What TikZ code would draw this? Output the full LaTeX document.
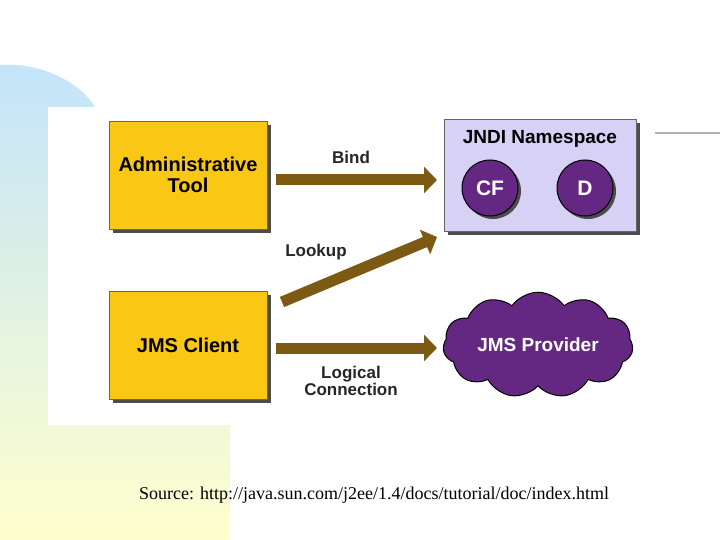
\documentclass[tikz,border=0pt]{standalone}
\usepackage{fontspec}
\setmainfont{Liberation Serif}
\newfontfamily\arialf{Liberation Sans}
\usetikzlibrary{shapes.symbols,arrows.meta,shadows}
\definecolor{ybox}{RGB}{250,200,20}
\definecolor{brownarr}{RGB}{125,90,20}
\definecolor{lav}{RGB}{215,210,245}
\definecolor{purp}{RGB}{100,40,130}
\definecolor{blueb}{RGB}{195,228,250}
\definecolor{yelb}{RGB}{255,255,205}
\begin{document}
\begin{tikzpicture}[x=1pt,y=-1pt,
 box/.style={draw=black!60,fill=ybox,minimum width=158pt,minimum height=108pt,font=\arialf\bfseries\fontsize{20}{21}\selectfont,align=center,drop shadow={shadow xshift=4pt,shadow yshift=-4pt,fill=black!70,opacity=1}},
 arr/.style={draw=brownarr,line width=11pt,-{Triangle[length=13pt,width=26pt]}},
 lab/.style={font=\arialf\bfseries\fontsize{17}{18}\selectfont,text=black!85,align=center}]
\useasboundingbox (0,0) rectangle (720,540);
\shade[top color=blueb,bottom color=yelb] (0,65) .. controls (40,62) and (80,82) .. (95,107) -- (95,425) -- (230,425) -- (230,540) -- (0,540) -- cycle;
\fill[white] (48,107) rectangle (655,425);
\draw[black!30,line width=1.2pt] (655,133) -- (720,133);
\node[box] (adm) at (188,175) {Administrative\\Tool};
\node[box] (cli) at (188,345) {JMS Client};
\node[draw=black!60,fill=lav,minimum width=192pt,minimum height=112pt,drop shadow={shadow xshift=4pt,shadow yshift=-4pt,fill=black!70,opacity=1}] (jndi) at (540,175) {};
\node[font=\arialf\bfseries\fontsize{19}{20}\selectfont,anchor=north] (jt) at (540,127) {JNDI Namespace};
\node[circle,fill=purp,draw=black,line width=1pt,minimum size=56pt,text=white,font=\arialf\bfseries\fontsize{21}{22}\selectfont,drop shadow={shadow xshift=3pt,shadow yshift=-3pt,fill=black!70,opacity=1}] (cf) at (490,188) {CF};
\node[circle,fill=purp,draw=black,line width=1pt,minimum size=56pt,text=white,font=\arialf\bfseries\fontsize{21}{22}\selectfont,drop shadow={shadow xshift=3pt,shadow yshift=-3pt,fill=black!70,opacity=1}] (d) at (585,188) {D};
\node[cloud,cloud puffs=11,cloud puff arc=110,aspect=2.2,fill=purp,draw=black,line width=1pt,minimum width=190pt,minimum height=105pt,text=white,font=\arialf\bfseries\fontsize{19}{20}\selectfont] (prov) at (538,345) {JMS Provider};
\coordinate (b1) at (276,180); \coordinate (b2) at (437,180);
\coordinate (l1) at (282,302); \coordinate (l2) at (437,237);
\coordinate (c1) at (276,348); \coordinate (c2) at (437,348);
\draw[arr] (b1) -- (b2);
\draw[arr] (l1) -- (l2);
\draw[arr] (c1) -- (c2);
\node[lab] (bl) at (351,157) {Bind};
\node[lab] (ll) at (316,252) {Lookup};
\node[lab,font=\arialf\bfseries\fontsize{17}{17}\selectfont] (cl) at (351,381) {Logical\\Connection};
\node[font=\fontsize{18}{20}\selectfont] (src) at (374,495) {Source: http://java.sun.com/j2ee/1.4/docs/tutorial/doc/index.html};
\end{tikzpicture}
\end{document}
